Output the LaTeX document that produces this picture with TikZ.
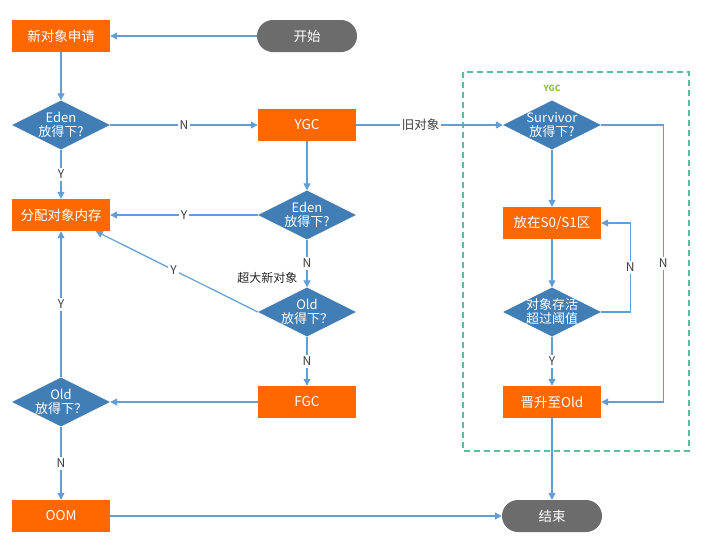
\documentclass[tikz,border=0pt]{standalone}
\usepackage{fontspec}
\setmainfont{Noto Sans CJK SC}
\usetikzlibrary{arrows.meta,shapes.geometric}
\definecolor{gcorange}{RGB}{255,104,0}
\definecolor{gcblue}{RGB}{66,126,182}
\definecolor{gcline}{RGB}{98,158,212}
\definecolor{gcgray}{RGB}{108,108,108}
\definecolor{gcteal}{RGB}{92,188,156}
\definecolor{gcgreen}{RGB}{140,192,64}
\definecolor{gctext}{RGB}{60,60,60}

\begin{document}
\begin{tikzpicture}[x=1pt,y=-1pt,
    box/.style={fill=gcorange, text=white, minimum width=98pt, minimum height=32pt, inner sep=0pt, font=\fontsize{13.5}{15}\selectfont},
    pill/.style={fill=gcgray, text=white, rounded corners=16pt, minimum width=100pt, minimum height=32pt, inner sep=0pt, font=\fontsize{13.5}{15}\selectfont},
    dia/.style={diamond, fill=gcblue, minimum width=98pt, minimum height=49pt, inner sep=0pt},
    dtxt/.style={text=white, align=center, inner sep=0pt, font=\fontsize{13}{14}\selectfont},
    arr/.style={draw=gcline, line width=1.2pt, -{Triangle[length=7pt,width=7pt]}},
    lbl/.style={fill=white, text=gctext, inner sep=2pt, font=\fontsize{12}{13}\selectfont}]
    \fill[white] (0,0) rectangle (724,552);
    \useasboundingbox (0,0) rectangle (724,552);

    \draw[gcteal, line width=1.4pt, dash pattern=on 6pt off 4pt] (463,72) rectangle (689,451);
    \node[text=gcgreen, font=\fontsize{8.5}{9}\selectfont\bfseries] (ygctitle) at (552,88) {YGC};

    \node[box] (new) at (61,36) {新对象申请};
    \node[pill] (start) at (307,36) {开始};
    \node[dia, label={[dtxt]center:Eden\\放得下?}] (e1) at (61,125) {};
    \node[box] (ygc) at (307,125) {YGC};
    \node[box] (alloc) at (61,215) {分配对象内存};
    \node[dia, label={[dtxt]center:Eden\\放得下?}] (e2) at (307,215) {};
    \node[dia, label={[dtxt]center:Old\\放得下？}] (old1) at (307,312) {};
    \node[box] (fgc) at (307,402) {FGC};
    \node[dia, label={[dtxt]center:Old\\放得下？}] (old2) at (61,402) {};
    \node[box] (oom) at (61,516) {OOM};
    \node[pill] (end) at (552,516) {结束};
    \node[dia, label={[dtxt]center:Survivor\\放得下?}] (surv) at (552,125) {};
    \node[box] (s01) at (552,223) {放在S0/S1区};
    \node[dia, label={[dtxt]center:对象存活\\超过阈值}] (age) at (552,312) {};
    \node[box] (prom) at (552,402) {晋升至Old};

    \draw[arr] (start) -- (new);
    \draw[arr] (new) -- (e1);
    \draw[arr] (e1) -- node[lbl] {N} (ygc);
    \draw[arr] (e1) -- node[lbl] {Y} (alloc);
    \draw[arr] (ygc) -- (e2);
    \draw[arr] (e2) -- node[lbl] {Y} (alloc);
    \draw[arr] (e2) -- node[lbl] {N} node[pos=0.8, left=9pt, inner sep=0pt, text=black!85, font=\fontsize{12}{13}\selectfont] {超大新对象} (old1);
    \draw[arr] (old1.west) -- node[lbl, pos=0.52] {Y} (alloc.-25);
    \draw[arr] (old1) -- node[lbl] {N} (fgc);
    \draw[arr] (fgc) -- (old2);
    \draw[arr] (old2) -- node[lbl] {Y} (alloc);
    \draw[arr] (old2) -- node[lbl] {N} (oom);
    \draw[arr] (oom) -- (end);
    \draw[arr] (ygc) -- node[lbl, pos=0.44, font=\fontsize{12.5}{13}\selectfont] {旧对象} (surv);
    \draw[arr] (surv) -- (s01);
    \draw[arr] (s01) -- (age);
    \draw[arr] (age.east) -- ++(29,0) |- node[lbl, pos=0.25] {N} (s01.east);
    \draw[arr] (surv.east) -- ++(62,0) |- node[lbl, pos=0.25] {N} (prom.east);
    \draw[arr] (age) -- node[lbl] {Y} (prom);
    \draw[arr] (prom) -- (end);
  \end{tikzpicture}
\end{document}
